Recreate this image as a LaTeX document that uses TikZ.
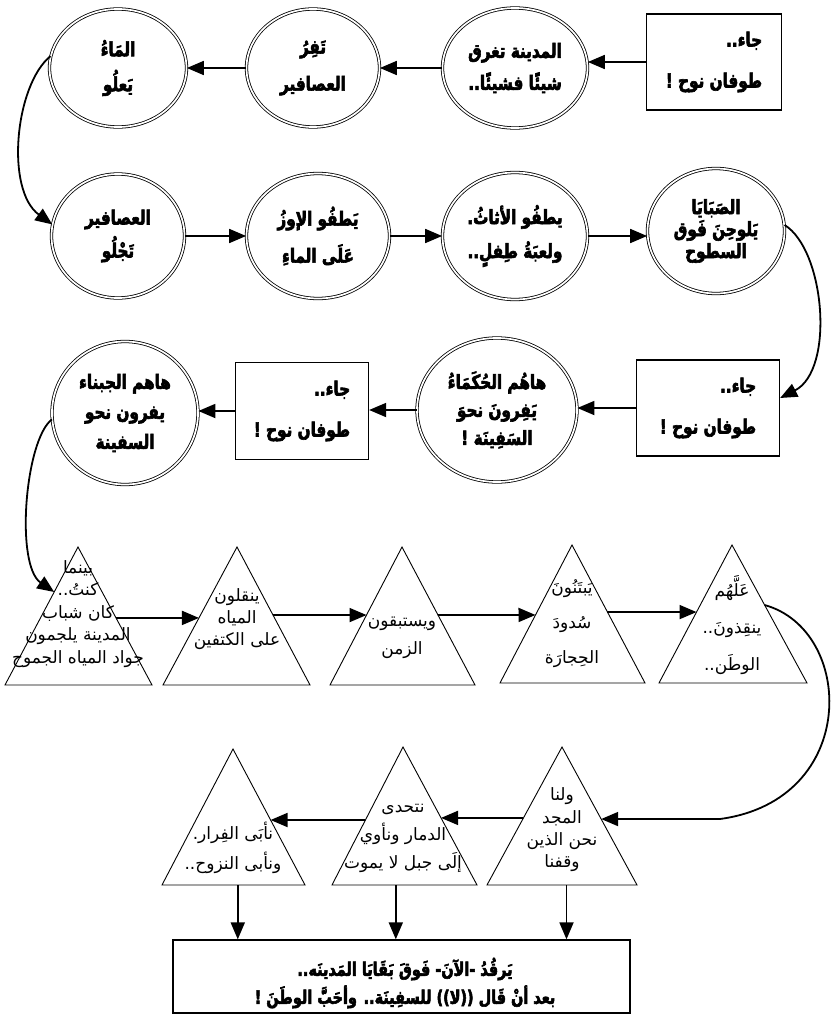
\documentclass[tikz,border=0pt]{standalone}
\usepackage{fontspec}
\usetikzlibrary{arrows.meta,shapes.geometric,calc}
\TeXXeTstate=1
% plain Naskh-like text and a heavier, condensed face for headings
\newfontfamily\arfont[Script=Arabic]{DejaVu Sans}
\newfontfamily\arheavy[Script=Arabic,FakeStretch=0.78,FakeBold=3]{DejaVu Sans Bold}
\newcommand\RL[1]{\beginR#1\endR}

\tikzset{
  arr/.style={line width=1.8pt,-{Triangle[length=17pt,width=14pt]}},
  ring/.style={ellipse,draw,double,double distance=1.7pt,line width=0.8pt,
    inner sep=0pt,align=center,
    font=\arheavy\fontsize{19.5}{#1}\selectfont},
  ring/.default=34,
  panel/.style={rectangle,draw,line width=1.3pt,inner sep=0pt,align=right,
    font=\arheavy\fontsize{19.5}{41}\selectfont},
  tri/.style={line width=0.9pt,line join=miter},
  verse/.style={inner sep=0pt,align=center,
    font=\arfont\fontsize{17}{#1}\selectfont},
  verse/.default=22,
}

\begin{document}
\begin{tikzpicture}[x=1pt,y=-1pt]
\useasboundingbox[fill=white] (0,0) rectangle (833,1022);

% ---------- first row (right to left) ----------
\node[panel,minimum width=135pt,minimum height=96pt] (b1) at (714,62)
  {\RL{جاء..}\\\RL{طوفان نوح !}};
\node[ring=32,minimum width=145pt,minimum height=120pt] (c1) at (515,68)
  {\RL{المدينة تغرق}\\\RL{شيئًا فشيئًا..}};
\node[ring=37,minimum width=133pt,minimum height=118pt] (c2) at (313,68)
  {\RL{تَفِرُ}\\\RL{العصافير}};
\node[ring=35,minimum width=137pt,minimum height=118pt] (c3) at (118,68)
  {\RL{المَاءُ}\\\RL{يَعلُو}};

\draw[arr] (b1.west) -- (b1.west -| c1.east);
\draw[arr] (c1.west) -- (c2.east);
\draw[arr] (c2.west) -- (c3.east);

% ---------- second row (left to right) ----------
\node[ring=33,minimum width=133pt,minimum height=124pt] (c4) at (118,236)
  {\RL{العصافير}\\\RL{تَجْلُو}};
\node[ring=37,minimum width=143pt,minimum height=125pt] (c5) at (318,236)
  {\RL{يَطفُو الإوزُ}\\\RL{عَلَى الماءِ}};
\node[ring=34,minimum width=145pt,minimum height=127pt] (c6) at (515,236)
  {\RL{يطفُو الأثاثُ.}\\\RL{ولعبَةُ طِفلٍ..}};
\node[ring=22,minimum width=137pt,minimum height=125pt] (c7) at (716,231)
  {\RL{الصَبَايَا}\\\RL{يَلوحِنَ فَوق}\\\RL{السطوح}};

\draw[arr] (c3.170) .. controls (15,85) and (5,190) .. (c4.170);
\draw[arr] (c4.east) -- (c5.west);
\draw[arr] (c5.east) -- (c6.west);
\draw[arr] (c6.east) -- (c6.east -| c7.west);

% ---------- third row (right to left) ----------
\node[panel,minimum width=143pt,minimum height=96pt] (b2) at (708,408)
  {\RL{جاء..}\\\RL{طوفان نوح !}};
\node[ring=28,minimum width=160pt,minimum height=144pt] (c8) at (497,410)
  {\RL{هاهُم الحُكَمَاءُ}\\\RL{يَفِرونَ نحوَ}\\\RL{السَفِينَة !}};
\node[panel,minimum width=133pt,minimum height=97pt] (b3) at (302,411)
  {\RL{جاء..}\\\RL{طوفان نوح !}};
\node[ring=30,minimum width=146pt,minimum height=143pt] (c9) at (125,413)
  {\RL{هاهم الجبناء}\\\RL{يفرون نحو}\\\RL{السفينة}};

\draw[arr] (c7.5) .. controls (825,250) and (835,370) .. ([yshift=10pt]b2.east);
\draw[arr] (b2.west) -- (b2.west -| c8.east);
\draw[arr] (c8.west) -- (c8.west -| b3.east);
\draw[arr] (b3.west) -- (b3.west -| c9.east);

% ---------- fourth row: triangles (left to right) ----------
\coordinate (T1a) at (78,547);  \coordinate (T1l) at (5,685);   \coordinate (T1r) at (152,685);
\coordinate (T2a) at (237,547); \coordinate (T2l) at (163,685); \coordinate (T2r) at (310,685);
\coordinate (T3a) at (402,547); \coordinate (T3l) at (330,685); \coordinate (T3r) at (475,685);
\coordinate (T4a) at (572,545); \coordinate (T4l) at (500,683); \coordinate (T4r) at (645,683);
\coordinate (T5a) at (732,545); \coordinate (T5l) at (659,683); \coordinate (T5r) at (807,683);
\foreach \t in {T1,T2,T3,T4,T5}
  \draw[tri] (\t a) -- (\t l) -- (\t r) -- cycle;

\node[verse=22.5] (v1) at (78,614)
  {\RL{بينما}\\\RL{كنتُ..}\\\RL{كان شباب}\\\RL{المدينة يلجمون}\\\RL{جواد المياه الجموح}};
\node[verse=22] (v2) at (237,619)
  {\RL{ينقلون}\\\RL{المياه}\\\RL{على الكتفين}};
\node[verse=28] (v3) at (402,638)
  {\RL{ويستبقون}\\\RL{الزمن}};
\node[verse=35] (v4) at (572,624)
  {\RL{يَبتَنُونَ}\\\RL{سُدودَ}\\\RL{الحِجارَة}};
\node[verse=37] (v5) at (732,625)
  {\RL{عَلَّهُم}\\\RL{ينقِذونَ..}\\\RL{الوطَن..}};

\coordinate (p12) at ($(T1a)!0.514!(T1r)$); \coordinate (q12) at ($(T2a)!0.514!(T2l)$);
\coordinate (p23) at ($(T2a)!0.493!(T2r)$); \coordinate (q23) at ($(T3a)!0.493!(T3l)$);
\coordinate (p34) at ($(T3a)!0.493!(T3r)$); \coordinate (q34) at ($(T4a)!0.507!(T4l)$);
\coordinate (p45) at ($(T4a)!0.486!(T4r)$); \coordinate (q45) at ($(T5a)!0.486!(T5l)$);
\draw[arr] (p12) -- (q12);
\draw[arr] (p23) -- (q23);
\draw[arr] (p34) -- (q34);
\draw[arr] (p45) -- (q45);

\coordinate (in1) at ($(T1a)!0.326!(T1l)$);
\draw[arr] (c9.185) .. controls (25,440) and (15,565) .. (in1);

% ---------- fifth row: triangles (right to left) ----------
\coordinate (T6a) at (562,747); \coordinate (T6l) at (487,885); \coordinate (T6r) at (637,885);
\coordinate (T7a) at (403,747); \coordinate (T7l) at (332,885); \coordinate (T7r) at (477,885);
\coordinate (T8a) at (233,749); \coordinate (T8l) at (162,885); \coordinate (T8r) at (305,885);
\foreach \t in {T6,T7,T8}
  \draw[tri] (\t a) -- (\t l) -- (\t r) -- cycle;

\node[verse=22.3] (v6) at (562,830)
  {\RL{ولنا}\\\RL{المجد}\\\RL{نحن الذين}\\\RL{وقفنا}};
\node[verse=28] (v7) at (403,838)
  {\RL{نتحدى}\\\RL{الدمار ونأوي}\\\RL{إلَى جبل لا يموت}};
\node[verse=30] (v8) at (233,848)
  {\RL{نأبَى الفِرار.}\\\RL{ونأبى النزوح..}};

\coordinate (out5) at ($(T5a)!0.435!(T5r)$);
\coordinate (in6) at ($(T6a)!0.522!(T6r)$);
\coordinate (bend) at (720,819);
\draw[arr] (out5) .. controls (855,630) and (860,800) .. (bend) -- (in6);

\coordinate (p67) at ($(T6a)!0.514!(T6l)$); \coordinate (q67) at ($(T7a)!0.514!(T7r)$);
\coordinate (p78) at ($(T7a)!0.529!(T7l)$); \coordinate (q78) at ($(T8a)!0.522!(T8r)$);
\draw[arr] (p67) -- (q67);
\draw[arr] (p78) -- (q78);

% ---------- closing box ----------
\node[draw,line width=1.3pt,minimum width=457pt,minimum height=73pt] (fb) at (401.5,976.5) {};
\node[inner sep=0pt,align=center,font=\arheavy\fontsize{18.5}{28}\selectfont]
  (fbt) at (405,983)
  {\RL{يَرقُدُ -الآنَ- فَوقَ بَقَايَا المَدينَه..}\\\RL{بعد أنْ قَال ((لا)) للسفِينَة.. وأحَبَّ الوطَنَ !}};

\coordinate (d8) at ($(T8l)!0.53!(T8r)$);
\coordinate (d7) at ($(T7l)!0.44!(T7r)$);
\coordinate (d6) at ($(T6l)!0.53!(T6r)$);
\draw[arr] (d8) -- (d8 |- fb.north);
\draw[arr] (d7) -- (d7 |- fb.north);
\draw[arr] (d6) -- (d6 |- fb.north);
\end{tikzpicture}
\end{document}
